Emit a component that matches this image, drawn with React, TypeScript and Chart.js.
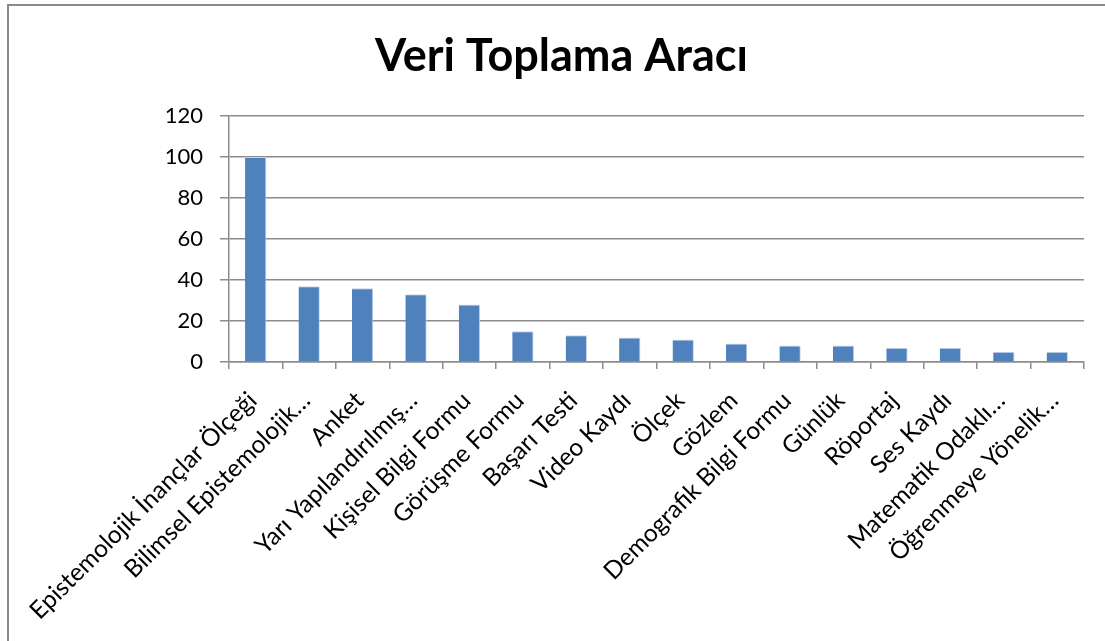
import React, { useEffect, useRef } from "react";
import { Chart, registerables } from "chart.js";

Chart.register(...registerables);

const chartTitle = "Veri Toplama Aracı";
const categories = [
  "Epistemolojik İnançlar Ölçeği",
  "Bilimsel Epistemolojik…",
  "Anket",
  "Yarı Yapılandırılmış…",
  "Kişisel Bilgi Formu",
  "Görüşme Formu",
  "Başarı Testi",
  "Video Kaydı",
  "Ölçek",
  "Gözlem",
  "Demografik Bilgi Formu",
  "Günlük",
  "Röportaj",
  "Ses Kaydı",
  "Matematik Odaklı…",
  "Öğrenmeye Yönelik…",
];
const values = [100, 37, 36, 33, 28, 15, 13, 12, 11, 9, 8, 8, 7, 7, 5, 5];
const yTicks = [0, 20, 40, 60, 80, 100, 120];

const FONT = "Lato, 'Open Sans', sans-serif";
const GRID = "#8c8c8c";

export default function App() {
  const ref = useRef<HTMLCanvasElement | null>(null);
  useEffect(() => {
    if (!ref.current) return;
    const chart = new Chart(ref.current, {
      type: "bar",
      data: {
        labels: categories,
        datasets: [
          {
            data: values,
            backgroundColor: "#4F81BD",
            borderColor: "#C9D7EA",
            borderWidth: { right: 1, top: 1, left: 0, bottom: 0 } as any,
            categoryPercentage: 1,
            barPercentage: 0.4,
          },
        ],
      },
      options: {
        animation: false,
        responsive: false,
        maintainAspectRatio: false,
        layout: { padding: { left: 39, right: 21, top: 0, bottom: 0 } },
        plugins: {
          legend: { display: false },
          tooltip: { enabled: false },
          title: {
            display: true,
            text: chartTitle,
            color: "#000",
            font: { family: FONT, size: 45, weight: "bold", lineHeight: 1.2 },
            padding: { top: 29, bottom: 33 },
          },
        },
        scales: {
          x: {
            offset: true,
            grid: {
              offset: true,
              drawOnChartArea: false,
              drawTicks: true,
              tickLength: 7,
              color: GRID,
              lineWidth: 1.5,
            },
            border: { display: true, color: GRID, width: 1.5 },
            ticks: {
              autoSkip: false,
              maxRotation: 45,
              minRotation: 45,
              color: "#000",
              padding: 17,
              labelOffset: -3,
              font: { family: FONT, size: 24.5 },
            },
            afterFit: (scale: any) => {
              scale.height = 279;
            },
          },
          y: {
            min: 0,
            max: 120,
            afterBuildTicks: (scale: any) => {
              scale.ticks = yTicks.map((v) => ({ value: v }));
            },
            grid: {
              color: GRID,
              lineWidth: 1.5,
              drawTicks: true,
              tickLength: 9,
            },
            border: { display: true, color: GRID, width: 1.5 },
            ticks: {
              color: "#000",
              padding: 17,
              font: { family: FONT, size: 22 },
            },
            afterFit: (scale: any) => {
              scale.width = 190;
            },
          },
        },
      },
    });
    return () => chart.destroy();
  }, []);
  return (
    <div>
      <div
        style={{
          position: "fixed",
          left: 7,
          top: 4,
          width: 1200,
          height: 800,
          border: "2px solid #8a8a8a",
          background: "#fff",
        }}
      />
      <div style={{ position: "fixed", left: 0, top: 0, width: 1105, height: 641 }}>
        <canvas ref={ref} width={1105} height={641} />
      </div>
    </div>
  );
}
